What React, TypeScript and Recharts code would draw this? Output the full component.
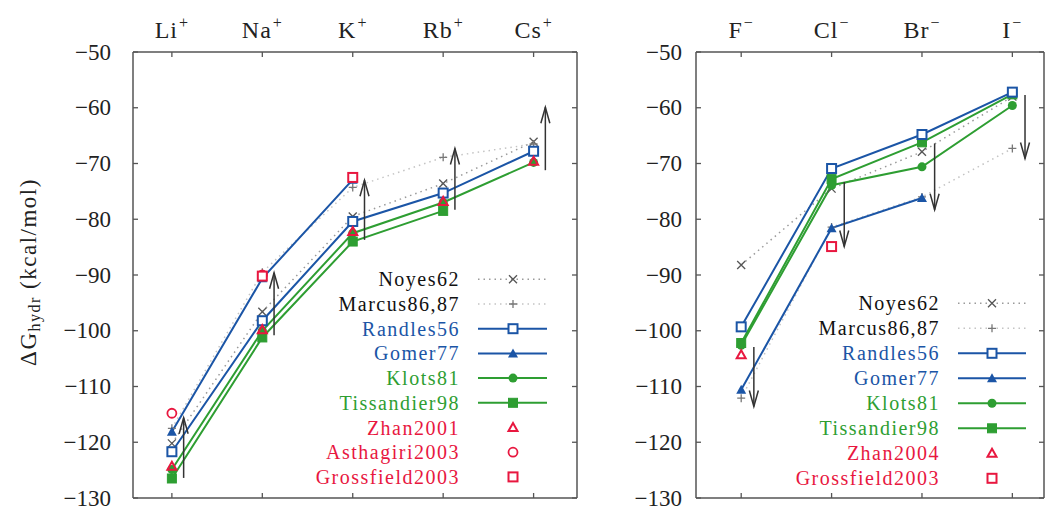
import React from 'react';
import { LineChart, Line, XAxis, YAxis, ReferenceLine, Legend, Label } from 'recharts';

// ---------- data ----------
const cations = ['Li', 'Na', 'K', 'Rb', 'Cs'];
const anions = ['F', 'Cl', 'Br', 'I'];
const yTicks = [-130, -120, -110, -100, -90, -80, -70, -60, -50];

// cation values (kcal/mol)
const noyesCat = [-120.2, -96.6, -79.5, -73.6, -66.1];
const marcusCat = [-117.5, -89.5, -74.3, -68.9, -66.5];
const randlesCat = [-121.7, -98.2, -80.4, -75.3, -67.8];
const gomerCat = [-118.1, -90.6, -72.9, null, null];
const klotsCat = [-124.9, -100.0, -82.5, -77.0, -69.8];
const tissandierCat = [-126.5, -101.2, -84.0, -78.5, null];
const zhanCat = [-124.3, -99.8, -82.2, -76.8, -69.6];
const asthagiriCat = [-114.8, -90.0, null, null, null];
const grossfieldCat = [null, -90.2, -72.5, null, null];
const arrowCatFrom = [-126.4, -100.8, -83.7, -78.3, -71.2];
const arrowCatTo = [-115.6, -89.6, -73.0, -67.3, -59.9];

// anion values (kcal/mol)
const noyesAn = [-88.2, -74.5, -67.9, -58.0];
const marcusAn = [-112.1, -81.4, -76.0, -67.3];
const randlesAn = [-99.3, -70.9, -64.8, -57.2];
const gomerAn = [-110.6, -81.6, -76.2, null];
const klotsAn = [-102.6, -73.9, -70.6, -59.6];
const tissandierAn = [-102.2, -72.8, -66.2, -57.6];
const zhanAn = [-104.3, null, null, null];
const grossfieldAn = [null, -84.9, null, null];
const arrowAnFrom = [-102.9, -73.3, -66.4, -57.7];
const arrowAnTo = [-113.6, -84.9, -78.3, -69.1];

// ---------- styles ----------
const FONT = '"Liberation Serif", "Times New Roman", serif';
const BLUE = '#1b55a6';
const GREEN = '#2e9e32';
const RED = '#e8173f';
const AXIS = '#555';

type Mk = 'x' | 'plus' | 'sqOpen' | 'triFill' | 'circFill' | 'sqFill' | 'triOpen' | 'circOpen';

interface SeriesDef {
  key: string;
  name: string;
  values: (number | null)[];
  color: string;
  text: string;
  marker: Mk;
  markerColor?: string;
  line: boolean;
  dash?: string;
  width: number;
}

function drawMarker(type: Mk, cx: number, cy: number, color: string, key?: string) {
  switch (type) {
    case 'x':
      return <path key={key} d={`M${cx - 4},${cy - 4}L${cx + 4},${cy + 4}M${cx - 4},${cy + 4}L${cx + 4},${cy - 4}`} stroke={color} strokeWidth={1.3} fill="none" />;
    case 'plus':
      return <path key={key} d={`M${cx - 4},${cy}L${cx + 4},${cy}M${cx},${cy - 4}L${cx},${cy + 4}`} stroke={color} strokeWidth={1.3} fill="none" />;
    case 'sqOpen':
      return <rect key={key} x={cx - 4.5} y={cy - 4.5} width={9} height={9} fill="#fff" stroke={color} strokeWidth={2} />;
    case 'sqFill':
      return <rect key={key} x={cx - 4.5} y={cy - 4.5} width={9} height={9} fill={color} stroke={color} strokeWidth={1} />;
    case 'triFill':
      return <polygon key={key} points={`${cx},${cy - 5} ${cx + 5},${cy + 4} ${cx - 5},${cy + 4}`} fill={color} />;
    case 'triOpen':
      return <polygon key={key} points={`${cx},${cy - 4.5} ${cx + 4.5},${cy + 3.5} ${cx - 4.5},${cy + 3.5}`} fill="none" stroke={color} strokeWidth={2} />;
    case 'circFill':
      return <circle key={key} cx={cx} cy={cy} r={4.5} fill={color} />;
    case 'circOpen':
      return <circle key={key} cx={cx} cy={cy} r={4.5} fill="none" stroke={color} strokeWidth={1.8} />;
  }
  return <g key={key} />;
}

function makeSeries(v: {
  noyes: (number | null)[]; marcus: (number | null)[]; randles: (number | null)[]; gomer: (number | null)[];
  klots: (number | null)[]; tissandier: (number | null)[]; zhan: (number | null)[]; zhanName: string;
  asthagiri?: (number | null)[]; grossfield: (number | null)[];
}): SeriesDef[] {
  const list: SeriesDef[] = [
    { key: 'noyes', name: 'Noyes62', values: v.noyes, color: '#9a9a9a', text: '#111', marker: 'x', markerColor: '#555', line: true, dash: '1.5 4', width: 1.5 },
    { key: 'marcus', name: 'Marcus86,87', values: v.marcus, color: '#c4c4c4', text: '#111', marker: 'plus', markerColor: '#777', line: true, dash: '1.5 4', width: 1.5 },
    { key: 'randles', name: 'Randles56', values: v.randles, color: BLUE, text: BLUE, marker: 'sqOpen', line: true, width: 2 },
    { key: 'gomer', name: 'Gomer77', values: v.gomer, color: BLUE, text: BLUE, marker: 'triFill', line: true, width: 2 },
    { key: 'klots', name: 'Klots81', values: v.klots, color: GREEN, text: GREEN, marker: 'circFill', line: true, width: 2 },
    { key: 'tissandier', name: 'Tissandier98', values: v.tissandier, color: GREEN, text: GREEN, marker: 'sqFill', line: true, width: 2 },
    { key: 'zhan', name: v.zhanName, values: v.zhan, color: RED, text: RED, marker: 'triOpen', line: false, width: 0 },
  ];
  if (v.asthagiri) {
    list.push({ key: 'asthagiri', name: 'Asthagiri2003', values: v.asthagiri, color: RED, text: RED, marker: 'circOpen', line: false, width: 0 });
  }
  list.push({ key: 'grossfield', name: 'Grossfield2003', values: v.grossfield, color: RED, text: RED, marker: 'sqOpen', line: false, width: 0 });
  return list;
}

const catSeries = makeSeries({
  noyes: noyesCat, marcus: marcusCat, randles: randlesCat, gomer: gomerCat, klots: klotsCat,
  tissandier: tissandierCat, zhan: zhanCat, zhanName: 'Zhan2001', asthagiri: asthagiriCat, grossfield: grossfieldCat,
});
const anSeries = makeSeries({
  noyes: noyesAn, marcus: marcusAn, randles: randlesAn, gomer: gomerAn, klots: klotsAn,
  tissandier: tissandierAn, zhan: zhanAn, zhanName: 'Zhan2004', grossfield: grossfieldAn,
});

const drawOrder = ['noyes', 'marcus', 'tissandier', 'klots', 'randles', 'gomer', 'zhan', 'asthagiri', 'grossfield'];

function buildRows(cats: string[], series: SeriesDef[]) {
  return cats.map((c, i) => {
    const row: Record<string, number | string | null> = { x: i, name: c };
    series.forEach((s) => { row[s.key] = s.values[i]; });
    return row;
  });
}

const catRows = buildRows(cations, catSeries);
const anRows = buildRows(anions, anSeries);

// ---------- pieces ----------
const fmtMinus = (v: number) => (v < 0 ? '\u2212' + Math.abs(v) : String(v));

const makeCatTick = (cats: string[], sup: string) => (props: any) => {
  const { x, y, payload } = props;
  return (
    <text x={x} y={y} textAnchor="middle" fontFamily={FONT} fontSize={24} letterSpacing={1} fill="#222">
      {cats[payload.value]}
      <tspan dx={1} dy={-10} fontSize={16}>{sup}</tspan>
    </text>
  );
};

const YTick = (props: any) => {
  const { x, y, payload } = props;
  return (
    <text x={x} y={y} dy="0.33em" textAnchor="end" fontFamily={FONT} fontSize={23} fill="#222">
      {fmtMinus(payload.value)}
    </text>
  );
};

const EmptyTick = () => <g />;

const arrowShape = (p: any) => {
  const { x1, y1, x2, y2 } = p;
  const dir = y2 > y1 ? 1 : -1;
  return (
    <g>
      <line x1={x1} y1={y1} x2={x2} y2={y2} stroke="#333" strokeWidth={1.5} />
      <path d={`M${x2 - 4.5},${y2 - dir * 16} L${x2},${y2} L${x2 + 4.5},${y2 - dir * 16}`} fill="none" stroke="#333" strokeWidth={1.5} />
    </g>
  );
};

interface LegendCfg {
  items: SeriesDef[];
  left: number; top: number; w: number; h: number;
  textRight: number; lineX1: number; lineX2: number; markX: number; row0: number; rowDy: number;
}

const LegendBox = ({ cfg }: { cfg: LegendCfg }) => (
  <svg width={cfg.w} height={cfg.h} style={{ display: 'block', overflow: 'visible' }}>
    {cfg.items.map((s, i) => {
      const y = cfg.row0 + i * cfg.rowDy;
      return (
        <g key={s.key}>
          <text x={cfg.textRight} y={y} dy="0.35em" textAnchor="end" fontFamily={FONT} fontSize={20} letterSpacing={1.5} fill={s.text}>
            {s.name}
          </text>
          {s.line && (
            <line x1={cfg.lineX1} x2={cfg.lineX2} y1={y} y2={y} stroke={s.color} strokeWidth={s.width} strokeDasharray={s.dash} />
          )}
          {drawMarker(s.marker, cfg.markX, y, s.markerColor ?? s.color)}
        </g>
      );
    })}
  </svg>
);

const legendOrder = ['noyes', 'marcus', 'randles', 'gomer', 'klots', 'tissandier', 'zhan', 'asthagiri', 'grossfield'];

const YLabel = () => (
  <text x={28} y={272} transform="rotate(-90 28 272)" textAnchor="middle" dominantBaseline="central" fontFamily={FONT} fontSize={23} letterSpacing={1.5} fill="#222">
    ΔG<tspan dy={6} fontSize={16}>hydr</tspan><tspan dy={-6}> (kcal/mol)</tspan>
  </text>
);

interface PanelProps {
  left: number; width: number; plotLeft: number; plotRight: number;
  cats: string[]; sup: string; series: SeriesDef[]; rows: Record<string, any>[];
  xDomain: [number, number]; arrFrom: number[]; arrTo: number[]; arrDx: number;
  yTickMargin: number; legend: Omit<LegendCfg, 'items'>; showYLabel: boolean;
}

function Panel(p: PanelProps) {
  const H = 506;
  const plotTop = 52;
  const plotBottom = 498;
  const yW = 40;
  const xH = 30;
  const margin = {
    top: plotTop - xH,
    bottom: H - plotBottom - 1,
    left: p.plotLeft - p.left - yW,
    right: p.left + p.width - p.plotRight - 1,
  };
  const xTicks = p.cats.map((_, i) => i);
  const ordered = drawOrder.map((k) => p.series.find((s) => s.key === k)).filter(Boolean) as SeriesDef[];
  const legItems = legendOrder.map((k) => p.series.find((s) => s.key === k)).filter(Boolean) as SeriesDef[];
  const axisLine = { stroke: AXIS, strokeWidth: 1.5 };
  const tickLine = { stroke: AXIS, strokeWidth: 1.3 };
  return (
    <div style={{ position: 'absolute', left: p.left, top: 0, width: p.width, height: H }}>
      <LineChart width={p.width} height={H} data={p.rows} margin={margin}>
        <XAxis xAxisId="top" orientation="top" type="number" dataKey="x" domain={p.xDomain} ticks={xTicks}
          allowDataOverflow interval={0} height={xH} axisLine={axisLine} tickLine={tickLine}
          tickSize={-5} tickMargin={19} tick={makeCatTick(p.cats, p.sup)} />
        <XAxis xAxisId="bottom" orientation="bottom" type="number" dataKey="x" domain={p.xDomain} ticks={xTicks}
          allowDataOverflow interval={0} height={1} axisLine={axisLine} tickLine={tickLine}
          tickSize={-5} tick={EmptyTick} />
        <YAxis yAxisId="left" orientation="left" type="number" domain={[-130, -50]} ticks={yTicks}
          allowDataOverflow interval={0} width={yW} axisLine={axisLine} tickLine={tickLine}
          tickSize={-5} tickMargin={p.yTickMargin} tick={YTick}>
          {p.showYLabel && <Label content={YLabel} />}
        </YAxis>
        <YAxis yAxisId="right" orientation="right" type="number" domain={[-130, -50]} ticks={yTicks}
          allowDataOverflow interval={0} width={1} axisLine={axisLine} tickLine={tickLine}
          tickSize={-5} tick={EmptyTick} />
        {ordered.map((s) => (
          <Line key={s.key} xAxisId="top" yAxisId="left" type="linear" dataKey={s.key}
            stroke={s.line ? s.color : 'none'} strokeWidth={s.line ? s.width : 0}
            strokeDasharray={s.dash} isAnimationActive={false} activeDot={false} connectNulls={false}
            dot={(d: any) => {
              const k = `${s.key}-${d.index}`;
              if (d.cy == null || Number.isNaN(d.cy) || d.value == null) return <g key={k} />;
              return drawMarker(s.marker, d.cx, d.cy, s.markerColor ?? s.color, k);
            }} />
        ))}
        {p.arrFrom.map((f, i) => (
          <ReferenceLine key={`arr-${i}`} xAxisId="top" yAxisId="left"
            segment={[{ x: i + p.arrDx, y: f }, { x: i + p.arrDx, y: p.arrTo[i] }]}
            shape={arrowShape} />
        ))}
        <Legend layout="horizontal" verticalAlign="middle" align="center"
          wrapperStyle={{ left: p.legend.left, top: p.legend.top, width: p.legend.w, height: p.legend.h }}
          content={() => <LegendBox cfg={{ ...p.legend, items: legItems }} />} />
      </LineChart>
    </div>
  );
}

export default function App() {
  return (
    <div style={{ position: 'absolute', left: 0, top: 0, width: 1046, height: 506, background: '#fff', overflow: 'hidden' }}>
      <Panel left={0} width={590} plotLeft={133} plotRight={577} cats={cations} sup="+" series={catSeries} rows={catRows}
        xDomain={[-0.43, 4.48]} arrFrom={arrowCatFrom} arrTo={arrowCatTo} arrDx={0.13} yTickMargin={27} showYLabel
        legend={{ left: 300, top: 262, w: 260, h: 230, textRight: 160, lineX1: 178, lineX2: 247, markX: 213, row0: 17.3, rowDy: 24.7 }} />
      <Panel left={590} width={456} plotLeft={696} plotRight={1044} cats={anions} sup={'\u2212'} series={anSeries} rows={anRows}
        xDomain={[-0.5, 3.35]} arrFrom={arrowAnFrom} arrTo={arrowAnTo} arrDx={0.14} yTickMargin={19} showYLabel={false}
        legend={{ left: 190, top: 286, w: 260, h: 210, textRight: 160, lineX1: 178, lineX2: 246, markX: 212, row0: 17.3, rowDy: 25 }} />
    </div>
  );
}
